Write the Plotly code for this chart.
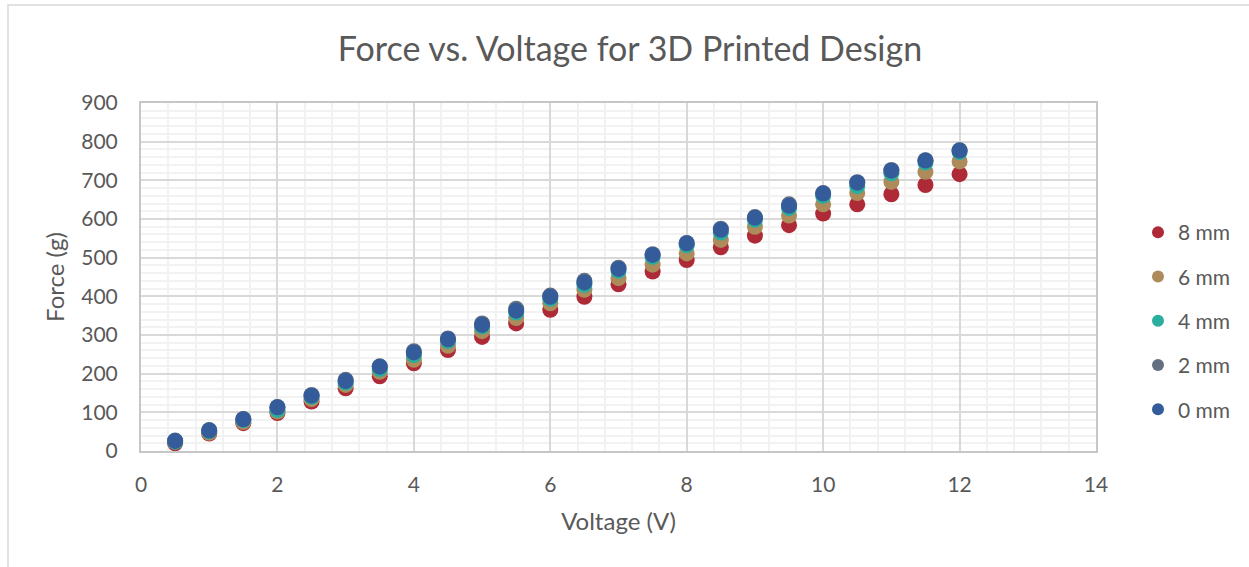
import plotly.graph_objects as go

voltage = [0.5, 1, 1.5, 2, 2.5, 3, 3.5, 4, 4.5, 5, 5.5, 6, 6.5, 7, 7.5, 8, 8.5, 9, 9.5, 10, 10.5, 11, 11.5, 12]
force_8mm = [20, 45, 72, 98, 128, 162, 193, 227, 261, 295, 330, 365, 399, 431, 464, 494, 527, 557, 584, 614, 638, 664, 688, 716]
force_6mm = [24, 47, 75, 102, 134, 171, 205, 236, 272, 310, 344, 382, 417, 447, 482, 511, 546, 580, 609, 638, 667, 696, 722, 749]
force_4mm = [24, 51, 80, 106, 140, 177, 212, 248, 284, 322, 358, 394, 430, 466, 502, 532, 565, 598, 628, 660, 685, 718, 746, 773]
force_2mm = [27, 54, 83, 114, 145, 184, 219, 258, 291, 330, 368, 402, 440, 474, 509, 538, 575, 605, 638, 667, 695, 727, 752, 778]
force_0mm = [26, 53, 82, 113, 143, 181, 218, 255, 289, 326, 363, 399, 436, 471, 507, 537, 572, 603, 634, 666, 694, 725, 751, 777]

series_names = ["8 mm", "6 mm", "4 mm", "2 mm", "0 mm"]
series_values = [force_8mm, force_6mm, force_4mm, force_2mm, force_0mm]
series_colors = ["#AE2A37", "#AD8B5B", "#2AAE9E", "#637080", "#355C9A"]

x_ticks = [0, 2, 4, 6, 8, 10, 12, 14]
y_ticks = [0, 100, 200, 300, 400, 500, 600, 700, 800, 900]

FONT = "Lato"
TXT = "#595959"

fig = go.Figure()
for name, vals, col in zip(series_names, series_values, series_colors):
    fig.add_trace(go.Scatter(
        x=voltage, y=vals, mode="markers", name=name, legendgroup=name,
        marker=dict(size=16, color=col, line=dict(width=0)),
    ))

W, H = 1249, 567
L, R, T, B = 141, 153, 103, 116
pw, ph = W - L - R, H - T - B

fig.update_layout(
    width=W, height=H,
    margin=dict(l=L, r=R, t=T, b=B, pad=0, autoexpand=False),
    paper_bgcolor="white", plot_bgcolor="white",
    font=dict(family=FONT, color=TXT, size=21),
    title=dict(text="Force vs. Voltage for 3D Printed Design", x=630 / W, xanchor="center",
               y=1 - 49 / H, yanchor="middle", font=dict(size=34, color=TXT, family=FONT)),
    showlegend=True,
    legend=dict(x=(1138 - L) / pw, xanchor="left", y=(451 - 232 + 20) / ph, yanchor="top",
                font=dict(size=21, color=TXT, family=FONT), tracegroupgap=14,
                itemwidth=30, itemsizing="constant", bgcolor="rgba(0,0,0,0)"),
    xaxis=dict(range=[0, 14], tickvals=x_ticks, ticktext=[str(v) for v in x_ticks],
               showgrid=True, gridcolor="#D9D9D9", gridwidth=2,
               minor=dict(dtick=0.4, tick0=0, showgrid=True, gridcolor="#F2F2F2", gridwidth=2),
               showline=True, linecolor="#C6C6C6", linewidth=2, mirror=True,
               zeroline=False, ticks="", ticklen=0, automargin=False,
               tickfont=dict(size=21, color=TXT, family=FONT),
               title=dict(text="Voltage (V)", font=dict(size=24, color=TXT, family=FONT), standoff=18)),
    yaxis=dict(range=[0, 900], tickvals=y_ticks, ticktext=[str(v) for v in y_ticks],
               showgrid=True, gridcolor="#D9D9D9", gridwidth=2,
               minor=dict(dtick=20, tick0=0, showgrid=True, gridcolor="#F2F2F2", gridwidth=2),
               showline=True, linecolor="#C6C6C6", linewidth=2, mirror=True,
               zeroline=False, ticks="", ticklen=0, automargin=False,
               tickfont=dict(size=21, color=TXT, family=FONT),
               title=dict(text="Force (g)", font=dict(size=24, color=TXT, family=FONT), standoff=10)),
)
fig.update_xaxes(ticklabelstandoff=14)
fig.update_yaxes(ticklabelstandoff=17)

# outer chart frame
fig.add_shape(type="rect", xref="paper", yref="paper", layer="below",
              x0=(8 - L) / pw, x1=(W + 20 - L) / pw,
              y0=(451 - (H + 20)) / ph, y1=(451 - 5) / ph,
              line=dict(color="#D9D9D9", width=1.5), fillcolor="rgba(0,0,0,0)")

fig.write_html("out.html")
